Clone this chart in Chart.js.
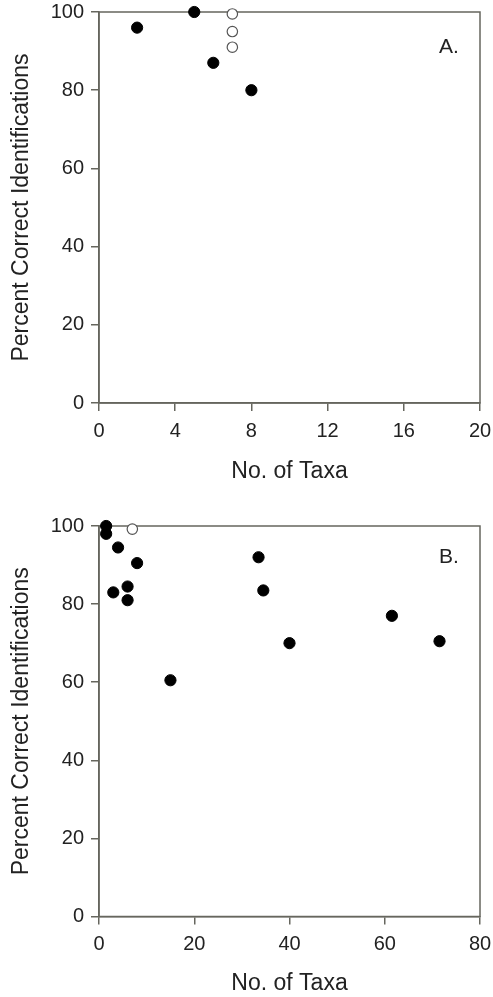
<!DOCTYPE html>
<html>
<head>
<meta charset="utf-8">
<script src="https://cdn.jsdelivr.net/npm/chart.js@4.4.0/dist/chart.umd.min.js"></script>
<style>
    html, body { margin: 0; padding: 0; background: #fff; }
    .panneau { position: relative; width: 493px; }
    #panneauA { height: 498px; }
    #panneauB { height: 499px; }
</style>
</head>
<body>
<div class="panneau" id="panneauA"><canvas id="chartA"></canvas></div>
<div class="panneau" id="panneauB"><canvas id="chartB"></canvas></div>
<script>
// Panel A
const taxaPleinsA = [2, 5, 6, 8];
const pourcentPleinsA = [96, 100, 87, 80];
const taxaVidesA = [7, 7, 7];
const pourcentVidesA = [99.5, 95, 91];
const ticksXA = [0, 4, 8, 12, 16, 20];

// Panel B
const taxaPleinsB = [1.5, 1.5, 3, 4, 6, 6, 8, 15, 33.5, 34.5, 40, 61.5, 71.5];
const pourcentPleinsB = [100, 98, 83, 94.5, 84.5, 81, 90.5, 60.5, 92, 83.5, 70, 77, 70.5];
const taxaVidesB = [7];
const pourcentVidesB = [99.2];
const ticksXB = [0, 20, 40, 60, 80];

const ticksY = [0, 20, 40, 60, 80, 100];

const couleurAxe = '#66665e';
const couleurTexte = '#222';
const police = 'Liberation Sans, Arial, Helvetica, sans-serif';

// cadre complet + lettre du panneau
const cadrePanneau = {
    id: 'cadrePanneau',
    beforeDatasetsDraw(chart, args, opts) {
        const ca = chart.chartArea;
        const ctx = chart.ctx;
        ctx.save();
        ctx.strokeStyle = couleurAxe;
        ctx.lineWidth = 1.5;
        ctx.strokeRect(ca.left, ca.top, ca.right - ca.left, ca.bottom - ca.top);
        ctx.fillStyle = couleurTexte;
        ctx.font = '21px ' + police;
        ctx.textAlign = 'center';
        ctx.textBaseline = 'middle';
        ctx.fillText(opts.texte, ca.right - 31, ca.top + opts.dy);
        ctx.restore();
    }
};

function versPoints(xs, ys) {
    return xs.map((x, i) => ({ x: x, y: ys[i] }));
}

function creerGraphique(canvasId, taxaPleins, pourcentPleins, taxaVides, pourcentVides, ticksX, lettre, opt) {
    const ctx = document.getElementById(canvasId).getContext('2d');
    return new Chart(ctx, {
        type: 'scatter',
        data: {
            datasets: [{
                data: versPoints(taxaPleins, pourcentPleins),
                backgroundColor: '#000',
                borderColor: '#000',
                borderWidth: 1,
                pointRadius: 5.6,
                clip: false
            }, {
                data: versPoints(taxaVides, pourcentVides),
                backgroundColor: '#fff',
                borderColor: '#555',
                borderWidth: 1.2,
                pointRadius: 5.2,
                clip: false
            }]
        },
        options: {
            responsive: true,
            maintainAspectRatio: false,
            animation: false,
            layout: { padding: { top: opt.hautPlot, right: 13, left: 0, bottom: 0 } },
            plugins: {
                legend: { display: false },
                tooltip: { enabled: false },
                cadrePanneau: { texte: lettre, dy: opt.dyLettre }
            },
            scales: {
                x: {
                    type: 'linear',
                    min: ticksX[0],
                    max: ticksX[ticksX.length - 1],
                    afterBuildTicks: s => { s.ticks = ticksX.map(v => ({ value: v })); },
                    afterFit: s => {
                        s.height = opt.hautAxeX;
                        s.paddingLeft = 0;
                        s.paddingRight = 0;
                    },
                    grid: { drawOnChartArea: false, color: couleurAxe, tickLength: 8, lineWidth: 1.5 },
                    border: { color: couleurAxe, width: 1.5 },
                    ticks: { color: couleurTexte, font: { family: police, size: 20 }, padding: 8, maxRotation: 0 },
                    title: {
                        display: true,
                        text: 'No. of Taxa',
                        color: couleurTexte,
                        font: { family: police, size: 23 },
                        padding: { top: 0, bottom: opt.padTitreX }
                    }
                },
                y: {
                    min: 0,
                    max: 100,
                    afterBuildTicks: s => { s.ticks = ticksY.map(v => ({ value: v })); },
                    afterFit: s => {
                        s.width = 99;
                        s.paddingTop = 0;
                        s.paddingBottom = 0;
                    },
                    grid: { drawOnChartArea: false, color: couleurAxe, tickLength: 8, lineWidth: 1.5 },
                    border: { color: couleurAxe, width: 1.5 },
                    ticks: { color: couleurTexte, font: { family: police, size: 20 }, padding: 7 },
                    title: {
                        display: true,
                        text: 'Percent Correct Identifications',
                        color: couleurTexte,
                        font: { family: police, size: 23 },
                        padding: { top: 8, bottom: 0 }
                    }
                }
            }
        },
        plugins: [cadrePanneau]
    });
}

creerGraphique('chartA', taxaPleinsA, pourcentPleinsA, taxaVidesA, pourcentVidesA, ticksXA, 'A.',
    { hautPlot: 12, hautAxeX: 95, padTitreX: 13, dyLettre: 35 });
creerGraphique('chartB', taxaPleinsB, pourcentPleinsB, taxaVidesB, pourcentVidesB, ticksXB, 'B.',
    { hautPlot: 28, hautAxeX: 80.5, padTitreX: 0, dyLettre: 31 });
</script>
</body>
</html>
